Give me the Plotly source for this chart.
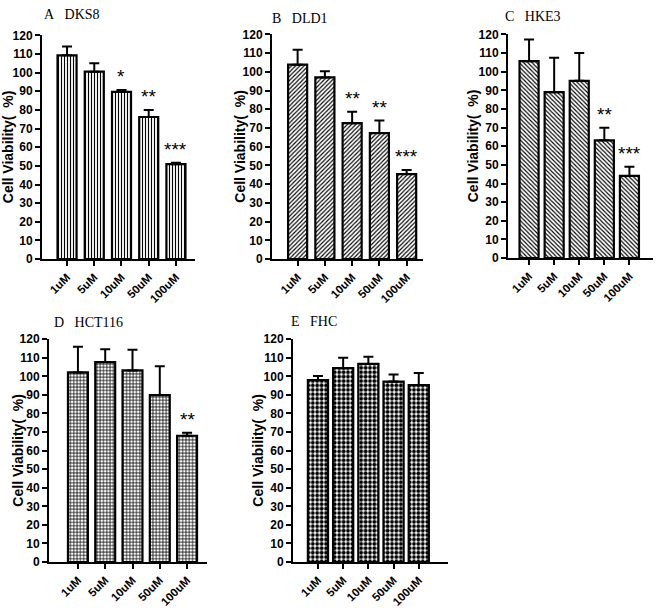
import plotly.graph_objects as go

W, H = 660, 613

categories = ["1uM", "5uM", "10uM", "50uM", "100uM"]
y_ticks = list(range(0, 121, 10))

dks8_mean = [109.3, 100.5, 89.7, 76.2, 50.9]
dks8_err = [4.7, 4.5, 1.0, 3.7, 0.8]
dks8_sig = ["", "", "*", "**", "***"]

dld1_mean = [103.8, 97.0, 72.6, 67.3, 45.4]
dld1_err = [8.0, 3.3, 6.1, 6.7, 2.2]
dld1_sig = ["", "", "**", "**", "***"]

hke3_mean = [105.6, 89.0, 95.1, 63.2, 44.1]
hke3_err = [11.6, 18.4, 14.9, 6.7, 4.9]
hke3_sig = ["", "", "", "**", "***"]

hct116_mean = [102.1, 107.7, 103.2, 89.9, 68.0]
hct116_err = [13.9, 6.9, 11.2, 15.6, 1.6]
hct116_sig = ["", "", "", "", "**"]

fhc_mean = [98.0, 104.4, 106.7, 97.2, 95.3]
fhc_err = [2.2, 5.6, 3.8, 3.8, 6.5]
fhc_sig = ["", "", "", "", ""]

panels = [
    dict(title="A\u00a0\u00a0\u00a0DKS8", mean=dks8_mean, err=dks8_err, sig=dks8_sig,
         pat=dict(shape="|", size=3, solidity=0.38),
         px=(42, 195), py=(29, 258), xr=(-0.92, 4.70), bw=0.70, tpos=(42, 8), ylx=8),
    dict(title="B\u00a0\u00a0\u00a0DLD1", mean=dld1_mean, err=dld1_err, sig=dld1_sig,
         pat=dict(shape="/", size=3, solidity=0.38),
         px=(272, 423), py=(28, 258), xr=(-0.94, 4.60), bw=0.70, tpos=(270, 12), ylx=240),
    dict(title="C\u00a0\u00a0\u00a0HKE3", mean=hke3_mean, err=hke3_err, sig=hke3_sig,
         pat=dict(shape="\\", size=3, solidity=0.38),
         px=(508, 653), py=(28, 257), xr=(-0.84, 4.94), bw=0.76, tpos=(503, 10), ylx=473),
    dict(title="D\u00a0\u00a0\u00a0HCT116", mean=hct116_mean, err=hct116_err, sig=hct116_sig,
         pat=dict(shape="+", size=3.3, solidity=0.4),
         px=(49, 207), py=(340, 568), xr=(-1.06, 4.73), bw=0.73, tpos=(52, 323), ylx=18),
    dict(title="E\u00a0\u00a0\u00a0FHC", mean=fhc_mean, err=fhc_err, sig=fhc_sig,
         pat=dict(shape=".", size=4.4, solidity=0.6),
         px=(293, 448), py=(340, 568), xr=(-0.99, 5.16), bw=0.80, tpos=(289, 322), ylx=258),
]

fig = go.Figure()
annotations = []
layout_axes = {}

for i, p in enumerate(panels):
    n = i + 1
    xa = "x" if n == 1 else f"x{n}"
    ya = "y" if n == 1 else f"y{n}"
    xkey = "xaxis" if n == 1 else f"xaxis{n}"
    ykey = "yaxis" if n == 1 else f"yaxis{n}"
    pat = dict(p["pat"])
    pat.update(fgcolor="black", bgcolor="white", fillmode="replace")
    fig.add_trace(go.Bar(
        x=categories, y=p["mean"], xaxis=xa, yaxis=ya, width=p["bw"],
        marker=dict(color="white", line=dict(color="black", width=2.2), pattern=pat),
        error_y=dict(type="data", symmetric=False, array=p["err"],
                     arrayminus=[0] * len(p["err"]), color="black", thickness=2, width=5),
        showlegend=False, hoverinfo="skip",
    ))
    x0, x1 = p["px"]
    yt, yb = p["py"]
    layout_axes[xkey] = dict(
        domain=[x0 / W, x1 / W], anchor=ya, type="category", range=list(p["xr"]),
        showline=True, linecolor="black", linewidth=2, ticks="outside", ticklen=5,
        tickwidth=2, tickcolor="black", tickangle=-45, showgrid=False, zeroline=False,
        tickfont=dict(family="Liberation Sans, Arial", size=11.5, color="black", weight="bold"),
        fixedrange=True,
    )
    layout_axes[ykey] = dict(
        domain=[1 - yb / H, 1 - yt / H], anchor=xa, range=[0, 120],
        tickvals=y_ticks, showline=True, linecolor="black", linewidth=2,
        ticks="outside", ticklen=5, tickwidth=2, tickcolor="black", showgrid=False,
        zeroline=False,
        tickfont=dict(family="Liberation Sans, Arial", size=12, color="black", weight="bold"),
        fixedrange=True,
    )
    annotations.append(dict(
        text=p["title"], x=p["tpos"][0] / W, y=1 - p["tpos"][1] / H, xref="paper", yref="paper",
        xanchor="left", yanchor="middle", showarrow=False,
        font=dict(family="Liberation Serif, Times New Roman", size=14, color="black"),
    ))
    annotations.append(dict(
        text="Cell Viability(\u00a0\u00a0%)", textangle=-90, x=p["ylx"] / W,
        y=1 - ((yt + yb) / 2) / H,
        xref="paper", yref="paper", xanchor="center", yanchor="middle", showarrow=False,
        font=dict(family="Liberation Sans, Arial", size=14, color="black", weight="bold"),
    ))
    for c, m, e, s in zip(categories, p["mean"], p["err"], p["sig"]):
        if s:
            annotations.append(dict(
                text=s, x=c, y=m + e + 0.5, xref=xa, yref=ya, xanchor="center",
                yanchor="bottom", showarrow=False,
                font=dict(family="Liberation Sans, Arial", size=19, color="black"),
            ))

fig.update_layout(
    width=W, height=H, margin=dict(l=0, r=0, t=0, b=0),
    paper_bgcolor="white", plot_bgcolor="white",
    annotations=annotations, bargap=0.3, **layout_axes,
)

fig.write_html("out.html", config={"displayModeBar": False},
               post_script="document.body.style.margin='0';")
